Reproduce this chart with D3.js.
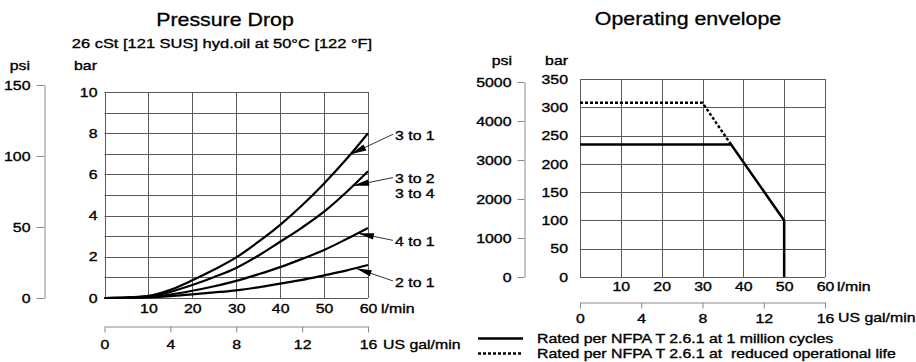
<!DOCTYPE html>
<html><head><meta charset="utf-8">
<script src="https://cdn.jsdelivr.net/npm/d3@7"></script>
<style>
body{margin:0;background:#fff}
text{font-family:"Liberation Sans",Arial,sans-serif;font-size:13px;fill:#000;stroke:#000;stroke-width:0.35px;white-space:pre}
text.title{font-size:17.5px;stroke-width:0.3px}
text.sub{font-size:13.5px}
</style>
</head><body><svg id="c" width="916" height="362"></svg>
<script>
// ---------- data ----------
const flow    = [0, 5, 10, 15, 20, 25, 30, 35, 40, 45, 50, 55, 60];        // l/min
const dp3to1  = [0, 0.02, 0.10, 0.40, 0.86, 1.38, 1.97, 2.72, 3.55, 4.50, 5.56, 6.72, 8.00]; // bar
const dp3to2  = [0, 0.02, 0.08, 0.30, 0.63, 1.02, 1.46, 2.05, 2.73, 3.42, 4.19, 5.12, 6.15];
const dp4to1  = [0, 0.01, 0.05, 0.17, 0.35, 0.57, 0.83, 1.15, 1.50, 1.90, 2.33, 2.85, 3.40];
const dp2to1  = [0, 0.005, 0.03, 0.09, 0.18, 0.27, 0.37, 0.52, 0.70, 0.88, 1.10, 1.33, 1.60];
const curveNames = ["3 to 1", "3 to 2", "4 to 1", "2 to 1"];
const sharedName = "3 to 4";

const barTicksL  = [0, 2, 4, 6, 8, 10];
const psiTicksL  = [0, 50, 100, 150];
const flowTicks  = [10, 20, 30, 40, 50, 60];
const galTicks   = [0, 4, 8, 12, 16];

const envFlowRated   = [0, 37, 50, 50];
const envBarRated    = [234, 234, 100, 0];
const envFlowReduced = [0, 30, 37];
const envBarReduced  = [308, 308, 234];
const barTicksR = [0, 50, 100, 150, 200, 250, 300, 350];
const psiTicksR = [0, 1000, 2000, 3000, 4000, 5000];
const legendLabels = ["Rated per NFPA T 2.6.1 at 1 million cycles",
                      "Rated per NFPA T 2.6.1 at  reduced operational life"];
const titleL = "Pressure Drop";
const subtitleL = "26 cSt [121 SUS] hyd.oil at 50°C [122 °F]";
const titleR = "Operating envelope";

// ---------- drawing ----------
const PSI = 14.5038;
const SX = 1.22;
const svg = d3.select("#c");
const snap = v => Math.round(v) + 0.5;
const GRID = "#5a5a5a", AX = "#8a8a8a";
const fmt = d3.format("d");

function grid(g, xs, ys, xv, yv) {
  xv.forEach(v => g.append("line").attr("x1", snap(xs(v))).attr("x2", snap(xs(v)))
      .attr("y1", ys.range()[0]).attr("y2", ys.range()[1]).attr("stroke", GRID).attr("stroke-width", 1));
  yv.forEach(v => g.append("line").attr("y1", snap(ys(v))).attr("y2", snap(ys(v)))
      .attr("x1", xs.range()[0]).attr("x2", xs.range()[1]).attr("stroke", GRID).attr("stroke-width", 1));
}
function clean(g) { g.attr("font-family", null).attr("font-size", null); }

// ===== Left chart =====
const xL = d3.scaleLinear().domain([0, 60]).range([104.5, 368]);
const yL = d3.scaleLinear().domain([0, 10]).range([298, 92]);
const yPsiL = d3.scaleLinear().domain([0, 150]).range([yL(0), yL(150 / PSI)]);
const xGalL = d3.scaleLinear().domain([0, 16]).range([104.5, 368]);

const gL = svg.append("g");
grid(gL, xL, yL, d3.range(0, 61, 10), d3.range(0, 11, 1));

const axBarL = gL.append("g").attr("transform", `translate(${xL(0)},0)`)
  .call(d3.axisLeft(yL).tickValues(barTicksL).tickFormat(fmt).tickSize(0).tickPadding(7));
axBarL.select(".domain").remove(); clean(axBarL);

const axPsiL = gL.append("g").attr("transform", "translate(44.5,0)")
  .call(d3.axisLeft(yPsiL).tickValues(psiTicksL).tickFormat(fmt).tickSize(8).tickSizeOuter(0).tickPadding(6));
axPsiL.selectAll("path,line").attr("stroke", AX); clean(axPsiL);

const axFlowL = gL.append("g").attr("transform", `translate(0,${yL(0)})`)
  .call(d3.axisBottom(xL).tickValues(flowTicks).tickFormat(fmt).tickSize(0).tickPadding(6));
axFlowL.select(".domain").remove(); clean(axFlowL);

const axGalL = gL.append("g").attr("transform", "translate(0,326.5)")
  .call(d3.axisBottom(xGalL).tickValues(galTicks).tickFormat(fmt).tickSize(6).tickSizeOuter(0).tickPadding(7));
axGalL.selectAll("path,line").attr("stroke", AX); clean(axGalL);

gL.append("text").attr("x", 381).attr("y", 313.5).text("l/min");
gL.append("text").attr("x", 383).attr("y", 349).text("US gal/min");
gL.append("text").attr("x", 30).attr("y", 70).attr("text-anchor", "end").text("psi");
gL.append("text").attr("x", 97).attr("y", 70).attr("text-anchor", "end").text("bar");
gL.append("text").attr("class", "title").attr("x", 225).attr("y", 26).attr("text-anchor", "middle").text(titleL);
gL.append("text").attr("class", "sub").attr("x", 222).attr("y", 48).attr("text-anchor", "middle").text(subtitleL);

const series = [dp3to1, dp3to2, dp4to1, dp2to1];
const lineL = d3.line().x(d => xL(d[0])).y(d => yL(d[1])).curve(d3.curveMonotoneX);
series.forEach(s => {
  gL.append("path").datum(flow.map((f, i) => [f, s[i]])).attr("d", lineL)
    .attr("fill", "none").attr("stroke", "#000").attr("stroke-width", 2.2);
});

// labels + arrows
const labelBar = [7.9, 5.8, 2.75, 0.78];
const tipFlow = [56, 56.6, 57.7, 57.2];
const labelX = 395;
series.forEach((s, i) => {
  const ly = yL(labelBar[i]);
  gL.append("text").attr("x", labelX).attr("y", ly).attr("dy", "0.36em").text(curveNames[i]);
  const tv = d3.scaleLinear().domain(flow).range(s)(tipFlow[i]);
  const tx = xL(tipFlow[i]), ty = yL(tv);
  const sx = labelX - 2, sy = ly - 1;
  gL.append("line").attr("x1", sx).attr("y1", sy).attr("x2", tx).attr("y2", ty)
    .attr("stroke", "#000").attr("stroke-width", 0.8);
  const dx = tx - sx, dy = ty - sy, L = Math.hypot(dx, dy);
  const ux = dx / L, uy = dy / L, nx = -uy, ny = ux;
  const hl = 16, hw = 3.2;
  const bx = tx - ux * hl, by = ty - uy * hl;
  gL.append("path").attr("d", `M${tx},${ty}L${bx + nx * hw},${by + ny * hw}L${bx - nx * hw},${by - ny * hw}Z`)
    .attr("fill", "#000");
});
gL.append("text").attr("x", labelX).attr("y", yL(5.1)).attr("dy", "0.36em").text(sharedName);

// ===== Right chart =====
const xR = d3.scaleLinear().domain([0, 60]).range([580, 825]);
const yR = d3.scaleLinear().domain([0, 350]).range([277, 79]);
const yPsiR = d3.scaleLinear().domain([0, 5000]).range([yR(0), yR(5000 / PSI)]);
const xGalR = d3.scaleLinear().domain([0, 16]).range([580, 825]);

const gR = svg.append("g");
grid(gR, xR, yR, d3.range(0, 61, 10), d3.range(0, 351, 50));

const axBarR = gR.append("g").attr("transform", `translate(${xR(0)},0)`)
  .call(d3.axisLeft(yR).tickValues(barTicksR).tickFormat(fmt).tickSize(0).tickPadding(12));
axBarR.select(".domain").remove(); clean(axBarR);

const axPsiR = gR.append("g").attr("transform", "translate(524.5,0)")
  .call(d3.axisLeft(yPsiR).tickValues(psiTicksR).tickFormat(fmt).tickSize(7).tickSizeOuter(0).tickPadding(6));
axPsiR.selectAll("path,line").attr("stroke", AX); clean(axPsiR);

const axFlowR = gR.append("g").attr("transform", `translate(0,${yR(0)})`)
  .call(d3.axisBottom(xR).tickValues(flowTicks).tickFormat(fmt).tickSize(0).tickPadding(5));
axFlowR.select(".domain").remove(); clean(axFlowR);

const axGalR = gR.append("g").attr("transform", "translate(0,302.5)")
  .call(d3.axisBottom(xGalR).tickValues(galTicks).tickFormat(fmt).tickSize(6).tickSizeOuter(0).tickPadding(5));
axGalR.selectAll("path,line").attr("stroke", AX); clean(axGalR);

gR.append("text").attr("x", 837).attr("y", 291).text("l/min");
gR.append("text").attr("x", 838).attr("y", 322.5).text("US gal/min");
gR.append("text").attr("x", 512).attr("y", 65).attr("text-anchor", "end").text("psi");
gR.append("text").attr("x", 568).attr("y", 65).attr("text-anchor", "end").text("bar");
gR.append("text").attr("class", "title").attr("x", 688).attr("y", 25).attr("text-anchor", "middle").text(titleR);

const lineR = d3.line().x(d => xR(d[0])).y(d => yR(d[1]));
gR.append("path").datum(envFlowReduced.map((f, i) => [f, envBarReduced[i]])).attr("d", lineR)
  .attr("fill", "none").attr("stroke", "#000").attr("stroke-width", 2.4).attr("stroke-dasharray", "3,2");
gR.append("path").datum(envFlowRated.map((f, i) => [f, envBarRated[i]])).attr("d", lineR)
  .attr("fill", "none").attr("stroke", "#000").attr("stroke-width", 2.5);

// legend
legendLabels.forEach((t, i) => {
  const y = 338.5 + i * 15;
  gR.append("line").attr("x1", 478).attr("x2", 523).attr("y1", y).attr("y2", y)
    .attr("stroke", "#000").attr("stroke-width", 2.4).attr("stroke-dasharray", i ? "3,2" : null);
  gR.append("text").attr("x", 537).attr("y", y).attr("dy", "0.36em").text(t);
});

// horizontal stretch of all text (reference lettering is wide)
svg.selectAll("text").each(function () {
  const x = +this.getAttribute("x") || 0;
  this.setAttribute("transform", `translate(${x},0) scale(${SX},1) translate(${-x},0)`);
});
</script>
</body></html>
